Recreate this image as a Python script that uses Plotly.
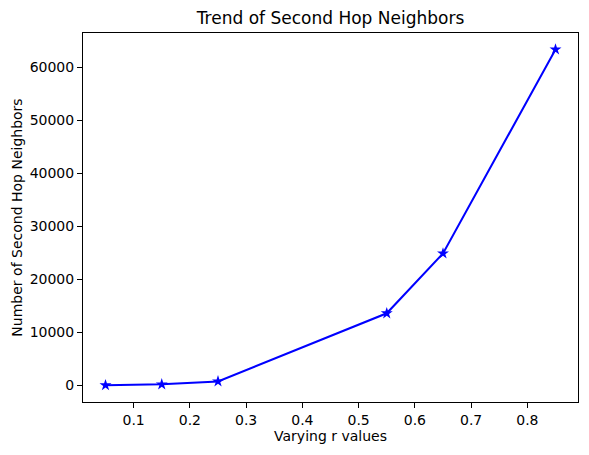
import plotly.graph_objects as go

r_values = [0.05, 0.15, 0.25, 0.55, 0.65, 0.85]
second_hop = [30, 190, 750, 13600, 24900, 63400]

fig = go.Figure()
fig.add_trace(go.Scatter(
    x=r_values,
    y=second_hop,
    mode="lines+markers",
    line=dict(color="blue", width=2),
    marker=dict(symbol="star", size=9, color="blue"),
))

axis_style = dict(
    showline=True, linecolor="black", linewidth=1, mirror=True,
    ticks="outside", ticklen=5, tickcolor="black",
    showgrid=False, zeroline=False, automargin=False,
    tickfont=dict(family="DejaVu Sans", size=14, color="black"),
)
fig.update_xaxes(axis_style, range=[0.01, 0.89], dtick=0.1, tick0=0,
                 title=dict(text="Varying r values",
                            font=dict(family="DejaVu Sans", size=14, color="black"), standoff=4))
fig.update_yaxes(axis_style, range=[-3140, 66500], dtick=10000, tick0=0,
                 tickformat="d",
                 title=dict(text="Number of Second Hop Neighbors",
                            font=dict(family="DejaVu Sans", size=14, color="black"), standoff=3))

fig.update_layout(
    width=589, height=455,
    margin=dict(l=83, r=11, t=33, b=53),
    plot_bgcolor="white", paper_bgcolor="white",
    font=dict(family="DejaVu Sans", color="black"),
    title=dict(text="Trend of Second Hop Neighbors", x=0.5, xanchor="center",
               xref="paper", y=1 - 18 / 455, yanchor="middle",
               font=dict(family="DejaVu Sans", size=17, color="black")),
    showlegend=False,
)

# drop the default page margin so the figure sits at the window corner
fig.write_html("out.html", config={"displayModeBar": False},
               post_script="document.body.style.margin='0';")
